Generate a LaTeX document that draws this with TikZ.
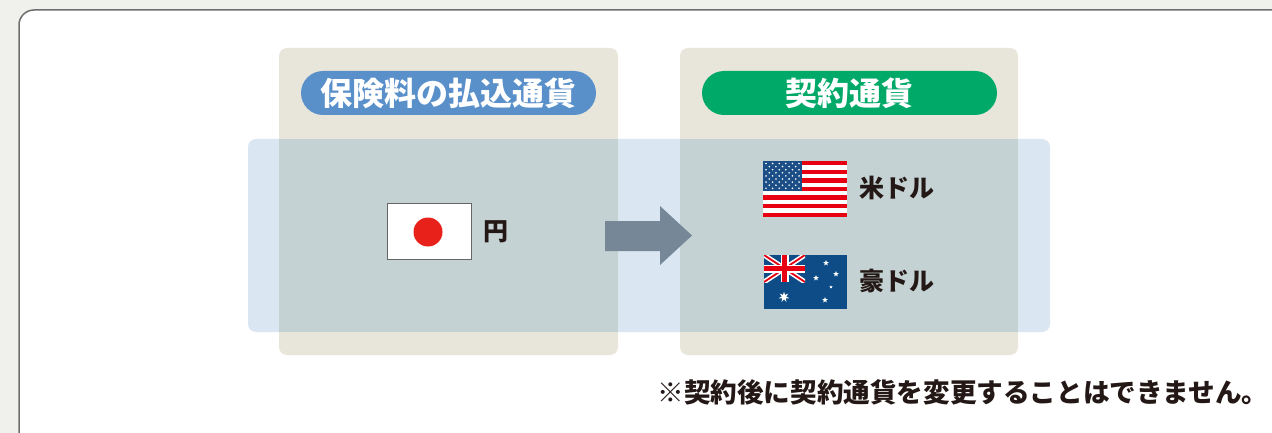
\documentclass[tikz,border=0pt]{standalone}
\usepackage{fontspec}
\newfontfamily\jp{Noto Sans CJK JP}
\usetikzlibrary{shapes.geometric}
\definecolor{outerbg}{HTML}{F0F1EC}
\definecolor{framec}{HTML}{6E6E6E}
\definecolor{beige}{HTML}{E8E6DA}
\definecolor{bandc}{HTML}{DAE6F2}
\definecolor{overlapc}{HTML}{C5D2D3}
\definecolor{pillblue}{HTML}{5A90CA}
\definecolor{pillgreen}{HTML}{00A968}
\definecolor{arrowc}{HTML}{768898}
\definecolor{txt}{HTML}{231815}
\definecolor{jpred}{HTML}{E8221B}
\definecolor{usred}{HTML}{E60012}
\definecolor{usblue}{HTML}{1B4E86}
\definecolor{aublue}{HTML}{0D4C86}
\tikzset{
  pilltext/.style={inner sep=0pt, text=white, font=\jp\bfseries\fontsize{32}{32}\selectfont},
  curtext/.style={inner sep=0pt, text=txt, font=\jp\bfseries\fontsize{25}{25}\selectfont},
  notetext/.style={inner sep=0pt, text=txt, font=\jp\bfseries\fontsize{26.6}{26.6}\selectfont},
  smallstar/.style={star, star points=5, star point ratio=2.4, fill=white, inner sep=0pt, minimum size=#1},
}
\begin{document}
\begin{tikzpicture}[x=1pt,y=-1pt]
\useasboundingbox (0,0) rectangle (1272,433);
\fill[outerbg] (0,0) rectangle (1272,433);
% outer frame
\draw[framec, line width=1.5pt, fill=white, rounded corners=15pt] (19,10) rectangle (1300,460);
% band and panels
\fill[bandc, rounded corners=8pt] (248,139) rectangle (1050,332);
\fill[beige, rounded corners=8pt] (279,48) rectangle (618,355);
\fill[beige, rounded corners=8pt] (680,48) rectangle (1018,355);
\fill[overlapc] (279,139) rectangle (618,332);
\fill[overlapc] (680,139) rectangle (1018,332);
% pills
\fill[pillblue, rounded corners=22pt] (301,71) rectangle (596,115);
\node[pilltext] (hdrL) at (448.5,93) {保険料の払込通貨};
\fill[pillgreen, rounded corners=22pt] (702,71) rectangle (997,115);
\node[pilltext] (hdrR) at (849.5,93) {契約通貨};
% Japan flag
\draw[fill=white, draw=gray!80!black, line width=1pt] (387,203) rectangle (471,259);
\fill[jpred] (428,232) circle (14.5);
\node[curtext] (yen) at (496,232) {円};
% arrow
\fill[arrowc] (605,221) -- (660,221) -- (660,206) -- (692,235.5) -- (660,265) -- (660,251) -- (605,251) -- cycle;
% US flag
\fill[white] (763,161) rectangle (847,217);
\foreach \i in {0,2,...,12} {
  \fill[usred] (763,{161+\i*56/13}) rectangle (847,{161+(\i+1)*56/13});
}
\fill[usblue] (763,161) rectangle (802,191);
\foreach \r in {0,...,8} {
  \pgfmathtruncatemacro{\odd}{mod(\r,2)}
  \ifnum\odd=0
    \foreach \c in {0,...,5} { \fill[white] ({766+\c*6.6},{163.5+\r*3.1}) circle (0.9); }
  \else
    \foreach \c in {0,...,4} { \fill[white] ({769.3+\c*6.6},{163.5+\r*3.1}) circle (0.9); }
  \fi
}
\node[curtext] (usd) at (897,188) {米ドル};
% Australia flag
\fill[aublue] (764,255) rectangle (847,309);
\begin{scope}
  \clip (764,255) rectangle (805,282);
  \fill[aublue] (764,255) rectangle (805,282);
  \draw[white, line width=5pt] (764,255) -- (805,282) (805,255) -- (764,282);
  \draw[usred, line width=1.8pt] (764,255) -- (805,282) (805,255) -- (764,282);
  \draw[white, line width=8pt] (784.5,255) -- (784.5,282) (764,268.5) -- (805,268.5);
  \draw[usred, line width=4.5pt] (784.5,255) -- (784.5,282) (764,268.5) -- (805,268.5);
\end{scope}
\node[smallstar=11pt, star points=7] (cstar) at (784,297) {};
\node[smallstar=6pt] (s1) at (826,263) {};
\node[smallstar=6pt] (s2) at (836,274) {};
\node[smallstar=6pt] (s3) at (816,278) {};
\node[smallstar=3.5pt] (s4) at (831,287) {};
\node[smallstar=6pt] (s5) at (825,300) {};
\node[curtext] (aud) at (897,281) {豪ドル};
% note
\node[notetext] (note) at (963,392) {※契約後に契約通貨を変更することはできません。};
\end{tikzpicture}
\end{document}
